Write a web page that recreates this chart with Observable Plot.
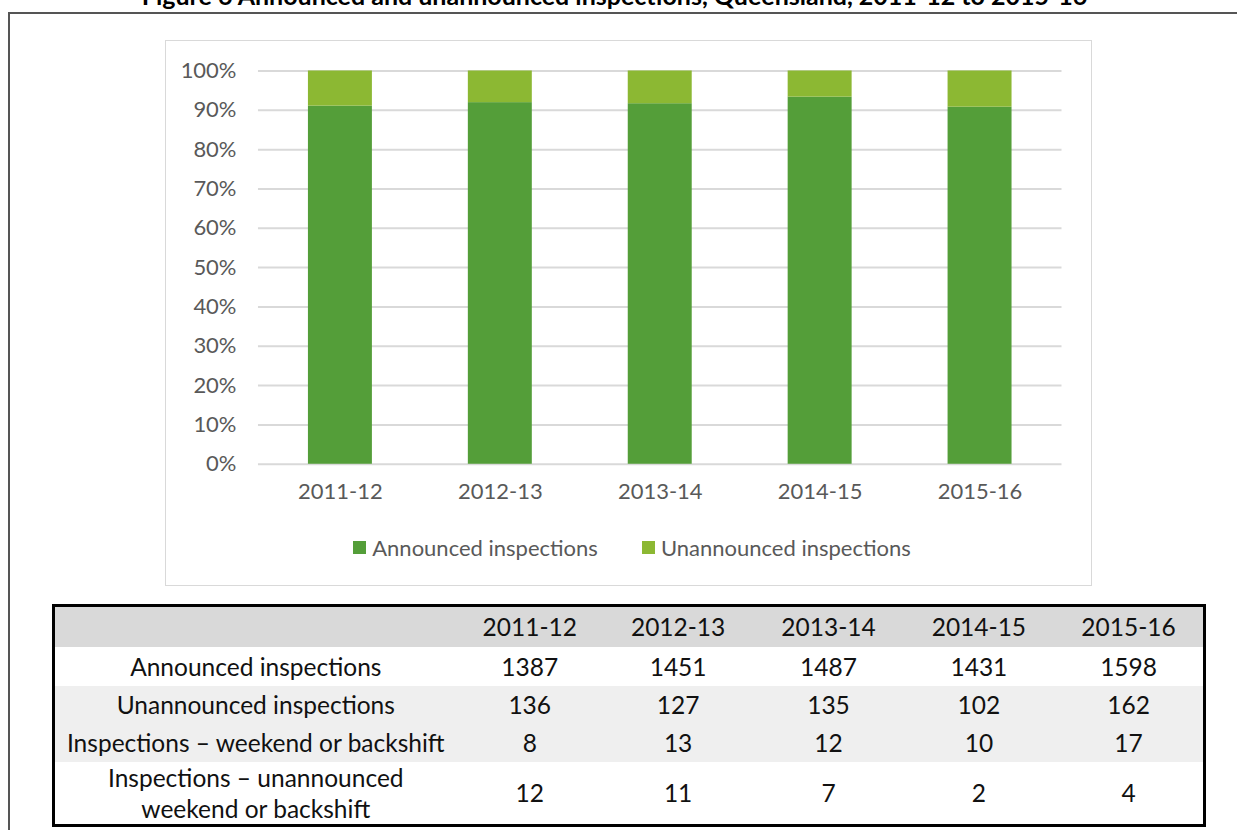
<!DOCTYPE html>
<html>
<head>
<meta charset="utf-8">
<script src="https://cdn.jsdelivr.net/npm/d3@7"></script>
<script src="https://cdn.jsdelivr.net/npm/@observablehq/plot@0.6"></script>
<style>
  html, body { margin: 0; padding: 0; background: #fff; width: 1237px; height: 830px; overflow: hidden; position: relative; font-family: Lato, "Noto Sans", sans-serif; }
  #title { position: absolute; left: -4px; width: 1237px; top: -17px; text-align: center; font-weight: bold; font-size: 25px; line-height: 25px; color: #000; white-space: nowrap; }
  #outer { position: absolute; left: 8px; top: 12px; width: 1240px; height: 830px; border: 2px solid #555; box-sizing: border-box; }
  #chartbox { position: absolute; left: 165px; top: 40px; width: 927px; height: 546px; border: 1.5px solid #d9d9d9; box-sizing: border-box; background: #fff; }
  #plot { position: absolute; left: -1.5px; top: -1.5px; }
  #legend { position: absolute; left: 0; width: 932px; top: 493px; display: flex; justify-content: center; gap: 44px; font-size: 22px; color: #595959; }
  .li { display: flex; align-items: center; }
  .sw { width: 13px; height: 13px; margin-right: 6px; }
  #tbl { position: absolute; left: 52px; top: 604px; width: 1154px; height: 222px; border: 3px solid #000; box-sizing: border-box; border-collapse: collapse; font-size: 24.5px; color: #111; }
  #tbl td { text-align: center; padding: 0; vertical-align: middle; line-height: 31px; }
</style>
</head>
<body>
<div id="title">Figure 6 Announced and unannounced inspections, Queensland, 2011-12 to 2015-16</div>
<div id="outer"></div>
<div id="chartbox"><div id="plot"></div><div id="legend"></div></div>
<table id="tbl"></table>
<script>
const years = ["2011-12", "2012-13", "2013-14", "2014-15", "2015-16"];
const announced = [1387, 1451, 1487, 1431, 1598];
const unannounced = [136, 127, 135, 102, 162];
const weekendBackshift = [8, 13, 12, 10, 17];
const unannouncedWeekendBackshift = [12, 11, 7, 2, 4];
const seriesNames = ["Announced inspections", "Unannounced inspections"];
const seriesColors = ["#549e39", "#8cb833"];
const yTicks = [0, 0.1, 0.2, 0.3, 0.4, 0.5, 0.6, 0.7, 0.8, 0.9, 1];

const data = [];
years.forEach((y, i) => {
  data.push({year: y, type: seriesNames[0], count: announced[i]});
  data.push({year: y, type: seriesNames[1], count: unannounced[i]});
});

const chart = Plot.plot({
  width: 927,
  height: 470,
  marginLeft: 93,
  marginRight: 30,
  marginTop: 30.5,
  marginBottom: 46,
  style: {fontFamily: "Lato, 'Noto Sans', sans-serif", fontSize: "22px", color: "#595959", background: "transparent"},
  x: {domain: years, label: null, paddingInner: 0.6, paddingOuter: 0.3},
  y: {domain: [0, 1], label: null},
  color: {domain: seriesNames, range: seriesColors},
  marks: [
    Plot.ruleY(yTicks, {stroke: "#d9d9d9", strokeWidth: 2}),
    Plot.barY(data, Plot.stackY({x: "year", y: "count", fill: "type", offset: "normalize", order: null})),
    Plot.axisX({tickSize: 0, tickPadding: 19, fontSize: 22, label: null}),
    Plot.axisY({ticks: yTicks, tickFormat: d3.format(".0%"), tickSize: 0, tickPadding: 22, fontSize: 22, label: null})
  ]
});
document.getElementById("plot").appendChild(chart);

const legend = document.getElementById("legend");
seriesNames.forEach((n, i) => {
  const li = document.createElement("div");
  li.className = "li";
  li.innerHTML = `<div class="sw" style="background:${seriesColors[i]}"></div><span>${n}</span>`;
  legend.appendChild(li);
});

const rows = [
  {label: "", values: years, bg: "#d9d9d9", h: 41},
  {label: "Announced inspections", values: announced, bg: "#ffffff", h: 39},
  {label: "Unannounced inspections", values: unannounced, bg: "#efefef", h: 38},
  {label: "Inspections – weekend or backshift", values: weekendBackshift, bg: "#efefef", h: 38},
  {label: "Inspections – unannounced<br>weekend or backshift", values: unannouncedWeekendBackshift, bg: "#ffffff", h: 63}
];
const colW = [402, 146, 150, 150, 150, 150];
const tbl = document.getElementById("tbl");
const cg = document.createElement("colgroup");
colW.forEach(w => { const c = document.createElement("col"); c.style.width = w + "px"; cg.appendChild(c); });
tbl.appendChild(cg);
rows.forEach(r => {
  const tr = document.createElement("tr");
  tr.style.background = r.bg;
  tr.style.height = r.h + "px";
  const td0 = document.createElement("td");
  td0.innerHTML = r.label;
  tr.appendChild(td0);
  r.values.forEach(v => { const td = document.createElement("td"); td.textContent = v; tr.appendChild(td); });
  tbl.appendChild(tr);
});
</script>
</body>
</html>
